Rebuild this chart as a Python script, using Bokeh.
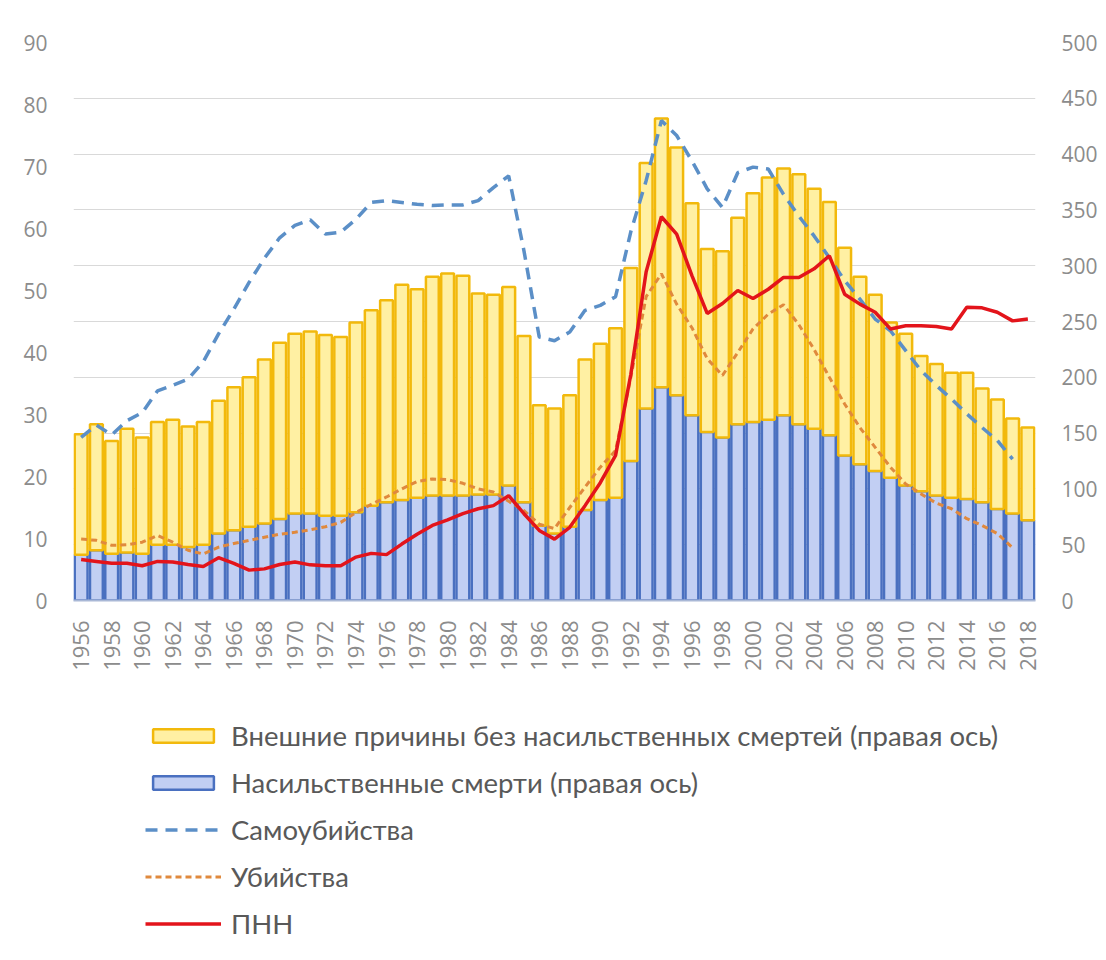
from bokeh.plotting import figure
from bokeh.layouts import column
from bokeh.models import (ColumnDataSource, Range1d, LinearAxis, FixedTicker,
                          Legend, LegendItem)
from bokeh.embed import file_html
from bokeh.resources import INLINE

nan = float("nan")

years = list(range(1956, 2019))

# Насильственные смерти (правая ось)
violent = [41, 45, 42, 43, 42, 50, 50, 48, 50, 60,
           63, 66, 69, 73, 78, 78, 76, 76, 79, 85,
           88, 90, 92, 94, 94, 94, 95, 95, 103, 88,
           67, 60, 66, 81, 90, 92, 125, 172, 191, 184,
           166, 151, 146, 158, 160, 162, 166, 158, 154, 148,
           130, 122, 116, 110, 103, 98, 94, 92, 91, 88,
           82, 78, 72]

# Внешние причины без насильственных смертей (правая ось)
other_external = [108, 113, 101, 111, 104, 110, 112, 108, 110, 119,
                  128, 134, 147, 158, 161, 163, 162, 160, 170, 175,
                  181, 193, 187, 196, 199, 197, 180, 179, 178, 149,
                  108, 112, 118, 135, 140, 152, 173, 220, 241, 222,
                  190, 164, 167, 185, 205, 217, 221, 224, 215, 209,
                  186, 168, 158, 139, 136, 121, 118, 112, 113, 102,
                  98, 85, 83]

# Самоубийства (левая ось)
suicides = [26.3, 28.3, 26.7, 29.0, 30.3, 33.8, 34.7, 35.7, 38.5, 43.0,
            47.0, 51.3, 55.2, 58.5, 60.5, 61.4, 59.1, 59.4, 61.5, 64.2,
            64.5, 64.2, 63.9, 63.7, 63.8, 63.8, 64.5, 66.6, 68.5, 56.4,
            42.5, 41.9, 43.3, 46.8, 47.6, 49.0, 59.5, 67.7, 77.4, 75.0,
            70.9, 66.4, 63.4, 69.0, 69.9, 69.6, 65.5, 62.0, 58.8, 55.3,
            51.6, 48.6, 45.4, 43.5, 40.3, 37.1, 34.7, 32.5, 30.1, 27.9,
            25.8, 22.8, nan]

# Убийства (левая ось)
homicides = [9.9, 9.7, 8.9, 9.0, 9.4, 10.5, 9.4, 8.1, 7.5, 8.6,
             9.2, 9.7, 10.2, 10.7, 11.0, 11.4, 11.9, 12.6, 14.2, 15.5,
             16.7, 18.0, 19.2, 19.6, 19.5, 18.9, 18.0, 17.5, 16.0, 14.5,
             12.3, 11.6, 15.0, 18.3, 21.5, 24.2, 36.0, 49.0, 52.7, 47.8,
             44.0, 39.0, 36.3, 40.0, 43.8, 46.2, 47.7, 44.5, 40.5, 36.0,
             31.7, 27.9, 24.7, 21.5, 18.8, 17.2, 15.7, 14.8, 13.2, 12.1,
             10.8, 8.5, nan]

# ПНН (левая ось)
pnn = [6.6, 6.3, 6.0, 6.0, 5.6, 6.3, 6.2, 5.8, 5.5, 6.9,
       6.0, 4.9, 5.1, 5.8, 6.2, 5.75, 5.6, 5.6, 7.0, 7.6,
       7.4, 9.1, 10.7, 12.1, 13.0, 14.0, 14.8, 15.3, 16.9, 14.0,
       11.3, 9.9, 11.8, 15.3, 19.0, 23.4, 36.5, 53.0, 61.9, 59.1,
       52.4, 46.3, 47.9, 50.0, 48.7, 50.2, 52.1, 52.1, 53.5, 55.6,
       49.4, 47.8, 46.5, 43.8, 44.3, 44.3, 44.2, 43.8, 47.3, 47.2,
       46.5, 45.1, 45.4]

x_tick_years = list(range(1956, 2019, 2))
left_ticks = list(range(0, 91, 10))
right_ticks = list(range(0, 501, 50))

legend_labels = ["Внешние причины без насильственных смертей (правая ось)",
                 "Насильственные смерти (правая ось)",
                 "Самоубийства",
                 "Убийства",
                 "ПНН"]

# styles
BLUE_FILL, BLUE_LINE = "#c2cff3", "#4a70c0"
YEL_FILL, YEL_LINE = "#fff0a3", "#f2b90c"
SUI_COLOR, HOM_COLOR, PNN_COLOR = "#5b8fc7", "#e0893d", "#e3141b"

src = ColumnDataSource(dict(year=years, violent=violent, other=other_external,
                            suicides=suicides, homicides=homicides, pnn=pnn))

p = figure(width=1100, height=690,
           x_range=Range1d(1955.5, 2018.5), y_range=Range1d(0, 500),
           y_axis_location="right", output_backend="svg", toolbar_location=None,
           min_border_left=73, min_border_right=60, min_border_top=42,
           min_border_bottom=90)
p.extra_y_ranges = {"left": Range1d(0, 90)}
p.outline_line_color = None
p.background_fill_color = "white"
p.border_fill_color = "white"
p.xgrid.visible = False
p.ygrid.ticker = FixedTicker(ticks=right_ticks)
p.ygrid.grid_line_color = "#d9d9d9"
p.ygrid.grid_line_width = 1

LABEL_FONT = "Open Sans"
LABEL_COLOR = "#8c8c8c"

def style_axis(ax):
    ax.major_tick_line_color = None
    ax.minor_tick_line_color = None
    ax.major_label_text_font = LABEL_FONT
    ax.major_label_text_color = LABEL_COLOR

ry = p.yaxis[0]
ry.ticker = FixedTicker(ticks=right_ticks)
style_axis(ry)
ry.axis_line_color = None
ry.major_label_text_font_size = "21px"
ry.major_label_standoff = 20

ly = LinearAxis(y_range_name="left", ticker=FixedTicker(ticks=left_ticks))
style_axis(ly)
ly.axis_line_color = None
ly.major_label_text_font_size = "21px"
ly.major_label_standoff = 20
p.add_layout(ly, "left")

xa = p.xaxis[0]
xa.ticker = FixedTicker(ticks=x_tick_years)
style_axis(xa)
xa.axis_line_color = "#a9b8d6"
xa.axis_line_width = 2
xa.major_label_orientation = 3.14159265 / 2
xa.major_label_text_font_size = "22px"
xa.major_label_standoff = 14

bars = p.vbar_stack(["violent", "other"], x="year", width=0.84, source=src,
                    fill_color=[BLUE_FILL, YEL_FILL],
                    line_color=[BLUE_LINE, YEL_LINE], line_width=2.5)

r_s = p.line("year", "suicides", source=src, y_range_name="left",
             line_color=SUI_COLOR, line_width=3.5, line_dash="12 8")
r_h = p.line("year", "homicides", source=src, y_range_name="left",
             line_color=HOM_COLOR, line_width=3, line_dash="6 4")
r_p = p.line("year", "pnn", source=src, y_range_name="left",
             line_color=PNN_COLOR, line_width=3.5)

# ---- legend panel (separate figure below the chart) ----
# The series renderers here are hidden and only provide legend swatches.
lg = figure(width=1100, height=265,
            x_range=Range1d(2030, 2040), y_range=Range1d(-10, -5),
            x_axis_type=None, y_axis_type=None, output_backend="svg",
            toolbar_location=None, min_border=0)
lg.outline_line_color = None
lg.background_fill_color = "white"
lg.border_fill_color = "white"
lg.grid.visible = False

g_yel = lg.vbar(x="year", top="other", width=0.84, source=src,
                fill_color=YEL_FILL, line_color=YEL_LINE, line_width=2.5)
g_blue = lg.vbar(x="year", top="violent", width=0.84, source=src,
                 fill_color=BLUE_FILL, line_color=BLUE_LINE, line_width=2.5)
g_s = lg.line(x="year", y="suicides", source=src, line_color=SUI_COLOR,
              line_width=3.5, line_dash="12 8")
g_h = lg.line(x="year", y="homicides", source=src, line_color=HOM_COLOR,
              line_width=3, line_dash="6 4")
g_p = lg.line(x="year", y="pnn", source=src, line_color=PNN_COLOR,
              line_width=3.5)
for g in (g_yel, g_blue, g_s, g_h, g_p):
    g.visible = False

legend = Legend(items=[
    LegendItem(label=legend_labels[0], renderers=[g_yel]),
    LegendItem(label=legend_labels[1], renderers=[g_blue]),
    LegendItem(label=legend_labels[2], renderers=[g_s]),
    LegendItem(label=legend_labels[3], renderers=[g_h]),
    LegendItem(label=legend_labels[4], renderers=[g_p]),
], location=(72, 15))
legend.label_text_font = "Lato"
legend.label_text_font_size = "27.5px"
legend.label_text_color = "#595959"
legend.glyph_width = 76
legend.glyph_height = 17
legend.label_height = 33
legend.label_standoff = 10
legend.spacing = 14
legend.padding = 0
legend.margin = 0
legend.border_line_color = None
legend.background_fill_alpha = 0
legend.inactive_fill_alpha = 0
lg.add_layout(legend, "center")

layout = column(p, lg, spacing=0)
open("out.html", "w").write(file_html(layout, INLINE))
